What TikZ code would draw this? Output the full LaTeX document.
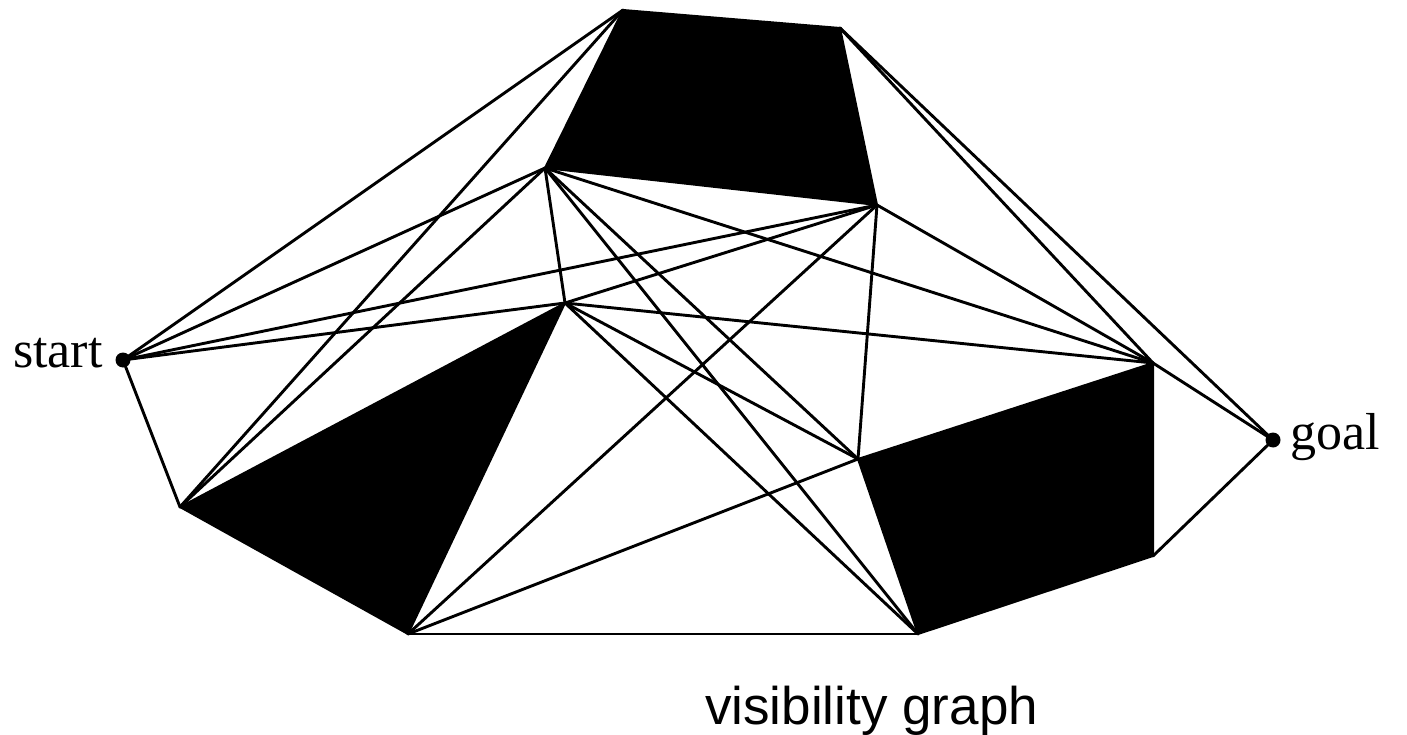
\documentclass[tikz,border=0pt]{standalone}
\usepackage{fontspec}
\setmainfont{Liberation Serif}
\newfontfamily\arialfont{Liberation Sans}
\begin{document}
\begin{tikzpicture}[x=1pt,y=-1pt,
  edge/.style={line width=2.9pt, line cap=round},
  obst/.style={fill=black, draw=black, line width=2pt, line join=round},
  vdot/.style={circle, fill=black, inner sep=0pt, minimum size=15pt},
  lbl/.style={inner sep=0pt, font=\fontsize{52}{52}\selectfont}]
\useasboundingbox (0,0) rectangle (1407,735);
% vertices
\coordinate (T1) at (623,10);
\coordinate (T2) at (840,28);
\coordinate (T3) at (877,205);
\coordinate (T4) at (545,168);
\coordinate (L1) at (180,507);
\coordinate (L2) at (565,303);
\coordinate (L3) at (408,634);
\coordinate (R1) at (858,459);
\coordinate (R2) at (1153,363);
\coordinate (R3) at (1153,556);
\coordinate (R4) at (918,634);
\node[vdot] (start) at (123,360) {};
\node[vdot] (goal) at (1273,440) {};
% obstacles
\filldraw[obst] (T1) -- (T2) -- (T3) -- (T4) -- cycle;
\filldraw[obst] (L1) -- (L2) -- (L3) -- cycle;
\filldraw[obst] (R1) -- (R2) -- (R3) -- (R4) -- cycle;
% visibility edges
\draw[edge] (start.center) -- (T1);
\draw[edge] (start.center) -- (T4);
\draw[edge] (start.center) -- (T3);
\draw[edge] (start.center) -- (L2);
\draw[edge] (start.center) -- (L1);
\draw[edge] (L1) -- (T1);
\draw[edge] (L1) -- (T4);
\draw[edge] (T2) -- (R2);
\draw[edge] (T2) -- (goal.center);
\draw[edge] (T3) -- (L2);
\draw[edge] (T3) -- (L3);
\draw[edge] (T3) -- (R1);
\draw[edge] (T3) -- (R2);
\draw[edge] (T4) -- (L2);
\draw[edge] (T4) -- (R2);
\draw[edge] (T4) -- (R1);
\draw[edge] (T4) -- (R4);
\draw[edge] (L2) -- (R2);
\draw[edge] (L2) -- (R1);
\draw[edge] (L2) -- (R4);
\draw[edge] (L3) -- (R1);
\draw[edge] (L3) -- (R4);
\draw[edge] (R2) -- (goal.center);
\draw[edge] (R3) -- (goal.center);
% labels
\node[lbl, anchor=base west] (startlbl) at (13,367) {start};
\node[lbl, anchor=base west] (goallbl) at (1290,449) {goal};
\node[inner sep=0pt, anchor=base west, font=\arialfont\fontsize{53}{53}\selectfont] (caption) at (705,724) {visibility graph};
\end{tikzpicture}
\end{document}
